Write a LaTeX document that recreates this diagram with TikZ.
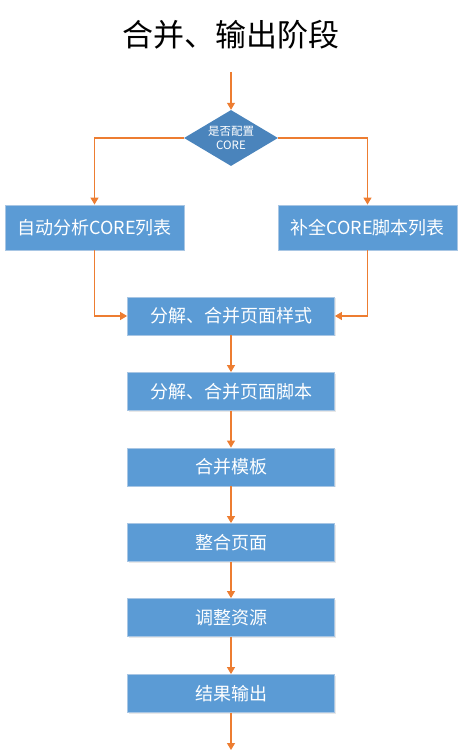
\documentclass[tikz,border=0pt]{standalone}
\usepackage{fontspec}
\setmainfont{Noto Sans CJK SC}
\usepackage{tikz}
\usetikzlibrary{arrows.meta, shapes.geometric, shadows}
\definecolor{boxblue}{HTML}{5B9BD5}
\definecolor{boxedge}{HTML}{A8C6E4}
\definecolor{decblue}{HTML}{4A84BC}
\definecolor{arrorange}{HTML}{ED7D31}
\begin{document}
\begin{tikzpicture}[x=1pt,y=-1pt]
        \tikzstyle{every node}+=[inner sep=0pt]
        \tikzstyle{stage}=[rectangle, fill=boxblue, draw=boxedge, line width=0.8pt, text=white,
                font=\fontsize{18}{20}\selectfont, minimum width=207pt, minimum height=38pt,
                drop shadow={shadow xshift=1pt, shadow yshift=-1pt, opacity=0.18}]
        \tikzstyle{side}=[stage, minimum width=179pt, minimum height=45pt]
        \tikzstyle{decide}=[diamond, fill=decblue, text=white, align=center, aspect=1.68,
                font=\fontsize{11.5}{14.5}\selectfont, minimum width=94pt, minimum height=56pt]
        \tikzstyle{flow}=[draw=arrorange, line width=1.1pt, -{Triangle[length=7pt,width=8pt]}]
        \useasboundingbox (0,0) rectangle (463,751);
        \node (title) at (231,35) {\fontsize{31}{34}\selectfont 合并、输出阶段};
        \coordinate (in) at (231,72);
        \node [decide] (core) at (231,138) {是否配置\\CORE};
        \node [side] (auto) at (94.5,227.5) {自动分析CORE列表};
        \node [side] (fill) at (367.5,227.5) {补全CORE脚本列表};
        \node [stage] (css) at (231,316) {分解、合并页面样式};
        \node [stage] (js) at (231,391.5) {分解、合并页面脚本};
        \node [stage] (tpl) at (231,467) {合并模板};
        \node [stage] (page) at (231,542.5) {整合页面};
        \node [stage] (res) at (231,617.5) {调整资源};
        \node [stage] (out) at (231,693.5) {结果输出};
        \coordinate (end) at (231,750);
        \draw [flow] (in) -- (core.north);
        \draw [flow] (core.west) -| (auto.north);
        \draw [flow] (core.east) -| (fill.north);
        \draw [flow] (auto.south) |- (css.west);
        \draw [flow] (fill.south) |- (css.east);
        \draw [flow] (css) -- (js);
        \draw [flow] (js) -- (tpl);
        \draw [flow] (tpl) -- (page);
        \draw [flow] (page) -- (res);
        \draw [flow] (res) -- (out);
        \draw [flow] (out) -- (end);
\end{tikzpicture}
\end{document}
